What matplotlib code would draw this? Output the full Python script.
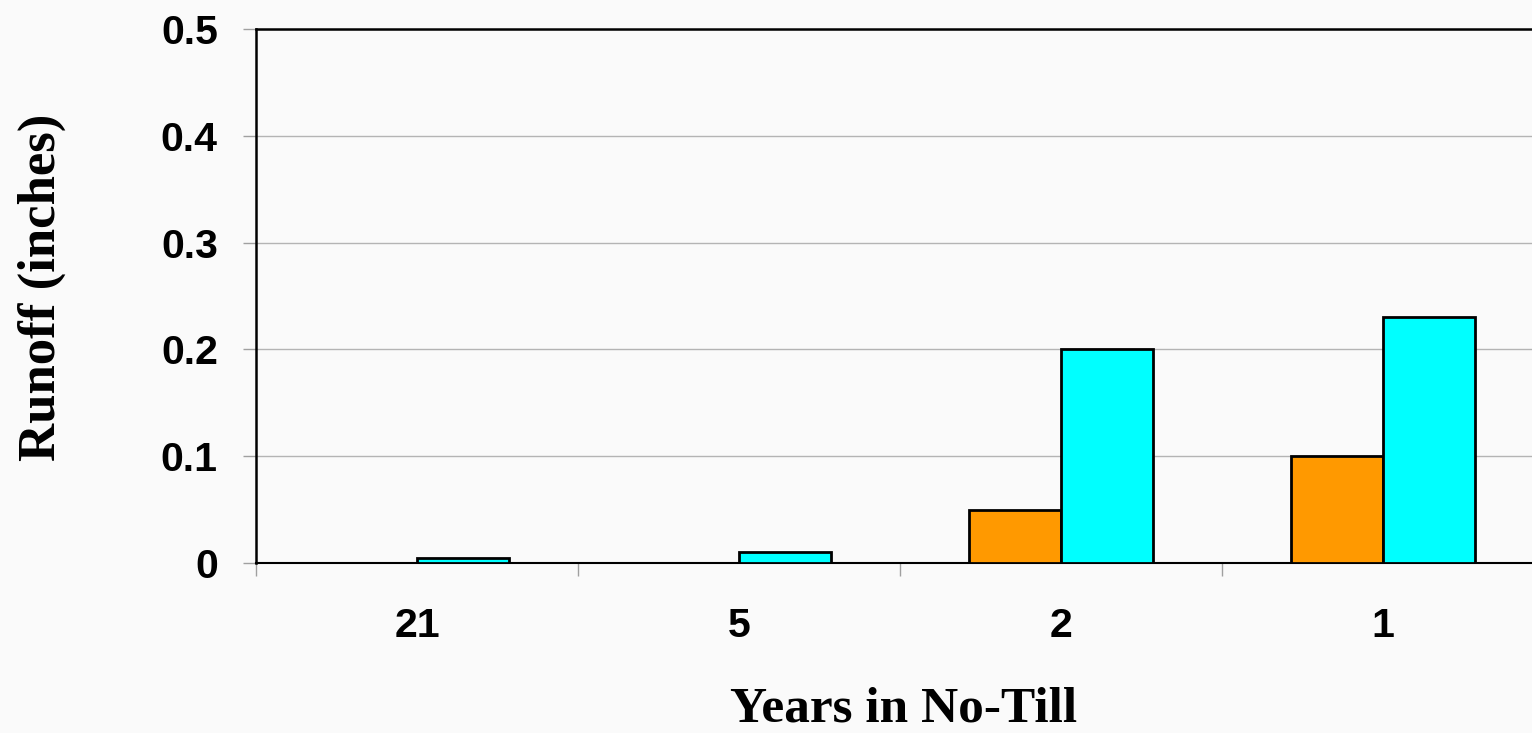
import matplotlib
matplotlib.use("Agg")
import matplotlib.pyplot as plt
import numpy as np

# Runoff by years in no-till
years = ["21", "5", "2", "1"]
runoff_orange = [0.0, 0.0, 0.05, 0.10]
runoff_cyan = [0.005, 0.01, 0.20, 0.23]
y_ticks = [0, 0.1, 0.2, 0.3, 0.4, 0.5]
y_tick_labels = ["0", "0.1", "0.2", "0.3", "0.4", "0.5"]

W, H, DPI = 1532, 733, 100
fig = plt.figure(figsize=(W / DPI, H / DPI), dpi=DPI)
fig.patch.set_facecolor("#fafafa")

ax = fig.add_axes([256 / W, 170 / H, 1288 / W, 534 / H])
ax.set_facecolor("#fafafa")

x = np.arange(len(years))
bw = 92 / 322
ax.bar(x - bw / 2, runoff_orange, width=bw, color="#ff9900",
       edgecolor="black", linewidth=2.0, zorder=3)
ax.bar(x + bw / 2, runoff_cyan, width=bw, color="#00ffff",
       edgecolor="black", linewidth=2.0, zorder=3)

ax.set_xlim(-0.5, len(years) - 0.5)
ax.set_ylim(0, 0.5)

ax.set_yticks(y_ticks)
ax.set_yticklabels(y_tick_labels, fontfamily="Liberation Sans",
                   fontweight="bold", fontsize=29.5)
ax.yaxis.grid(True, color="#b4b4b4", linewidth=1.0, zorder=0)
ax.tick_params(axis="y", length=9.5, width=1.0, color="#a0a0a0", pad=18)

# category labels centred, tick marks at category boundaries
ax.set_xticks(x)
ax.set_xticklabels(years, fontfamily="Liberation Sans",
                   fontweight="bold", fontsize=29.5)
ax.tick_params(axis="x", length=0, pad=32)
ax.set_xticks(np.arange(len(years) + 1) - 0.5, minor=True)
ax.tick_params(axis="x", which="minor", length=9, width=1.0, color="#a0a0a0")

for side in ["left", "top"]:
    ax.spines[side].set_color("black")
    ax.spines[side].set_linewidth(1.8)
ax.spines["right"].set_visible(False)
ax.spines["bottom"].set_color("black")
ax.spines["bottom"].set_linewidth(1.5)

fig.text(42 / W, 1 - 287 / H, "Runoff (inches)", rotation=90,
         ha="center", va="center", fontfamily="Liberation Serif",
         fontweight="bold", fontsize=38)
fig.text(904 / W, 1 - 709 / H, "Years in No-Till", ha="center",
         va="center", fontfamily="Liberation Serif", fontweight="bold",
         fontsize=37)

fig.savefig("out.png", dpi=DPI, facecolor=fig.get_facecolor())
